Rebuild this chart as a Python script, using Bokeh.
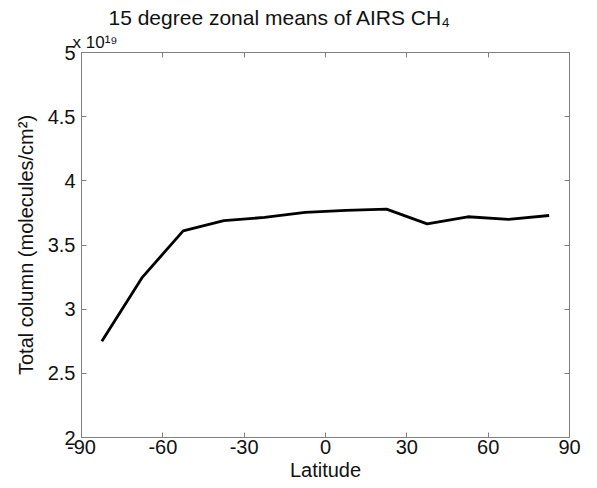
from bokeh.plotting import figure
from bokeh.models import Range1d, LinearAxis, FixedTicker, Title
from bokeh.embed import file_html
from bokeh.resources import INLINE

# 15-degree zonal band centres (degrees latitude)
latitude = [-82.5, -67.5, -52.5, -37.5, -22.5, -7.5, 7.5, 22.5, 37.5, 52.5, 67.5, 82.5]
# AIRS CH4 total column, in units of 1e19 molecules/cm^2
total_column = [2.75, 3.25, 3.61, 3.69, 3.715, 3.755, 3.77, 3.78, 3.665, 3.72, 3.70, 3.73]

x_ticks = [-90, -60, -30, 0, 30, 60, 90]
x_tick_labels = ["-90", "-60", "-30", "0", "30", "60", "90"]
y_ticks = [2, 2.5, 3, 3.5, 4, 4.5, 5]
y_tick_labels = ["2", "2.5", "3", "3.5", "4", "4.5", "5"]

FONT = "Liberation Sans"
AXIS_GRAY = "#808080"
TEXT = "#111111"

p = figure(width=589, height=488, output_backend="svg", toolbar_location=None,
           x_range=Range1d(-90, 90), y_range=Range1d(2, 5),
           min_border_left=81, min_border_right=20, min_border_top=52, min_border_bottom=51)

p.xgrid.visible = False
p.ygrid.visible = False
p.outline_line_color = AXIS_GRAY
p.background_fill_color = "white"
p.border_fill_color = "white"

p.line(latitude, total_column, line_color="black", line_width=2.8)

def style(ax, labels=True):
    ax.axis_line_color = AXIS_GRAY
    ax.major_tick_line_color = AXIS_GRAY
    ax.major_tick_in = 5
    ax.major_tick_out = 0
    ax.minor_tick_line_color = None
    ax.major_label_text_font = FONT
    ax.major_label_text_font_size = "20px"
    ax.major_label_text_color = TEXT
    ax.axis_label_text_font = FONT
    ax.axis_label_text_font_size = "20px"
    ax.axis_label_text_font_style = "normal"
    ax.axis_label_text_color = TEXT
    if not labels:
        ax.major_label_text_font_size = "0px"
        ax.major_label_text_alpha = 0

xa = p.xaxis[0]
style(xa)
xa.ticker = FixedTicker(ticks=x_ticks)
xa.major_label_overrides = {float(t): s for t, s in zip(x_ticks, x_tick_labels)}
xa.axis_label = "Latitude"
xa.major_label_standoff = 2
xa.axis_label_standoff = 2

ya = p.yaxis[0]
style(ya)
ya.ticker = FixedTicker(ticks=y_ticks)
ya.major_label_overrides = {float(t): s for t, s in zip(y_ticks, y_tick_labels)}
ya.axis_label = "Total column (molecules/cm²)"
ya.major_label_standoff = 6
ya.axis_label_standoff = 8

top = LinearAxis(ticker=FixedTicker(ticks=x_ticks))
style(top, labels=False)
p.add_layout(top, "above")
right = LinearAxis(ticker=FixedTicker(ticks=y_ticks))
style(right, labels=False)
p.add_layout(right, "right")

# Exponent multiplier above the y axis, then the title
mult = Title(text="x 10¹⁹", align="left", offset=-9, text_font=FONT,
             text_font_size="17px", text_font_style="normal", text_color=TEXT,
             standoff=1)
p.add_layout(mult, "above")

p.title.text = "15 degree zonal means of AIRS CH₄"
p.title.align = "left"
p.title.offset = 27
p.title.text_font = FONT
p.title.text_font_size = "21px"
p.title.text_font_style = "normal"
p.title.text_color = TEXT
p.title.standoff = 4

open("out.html", "w").write(file_html(p, INLINE))
